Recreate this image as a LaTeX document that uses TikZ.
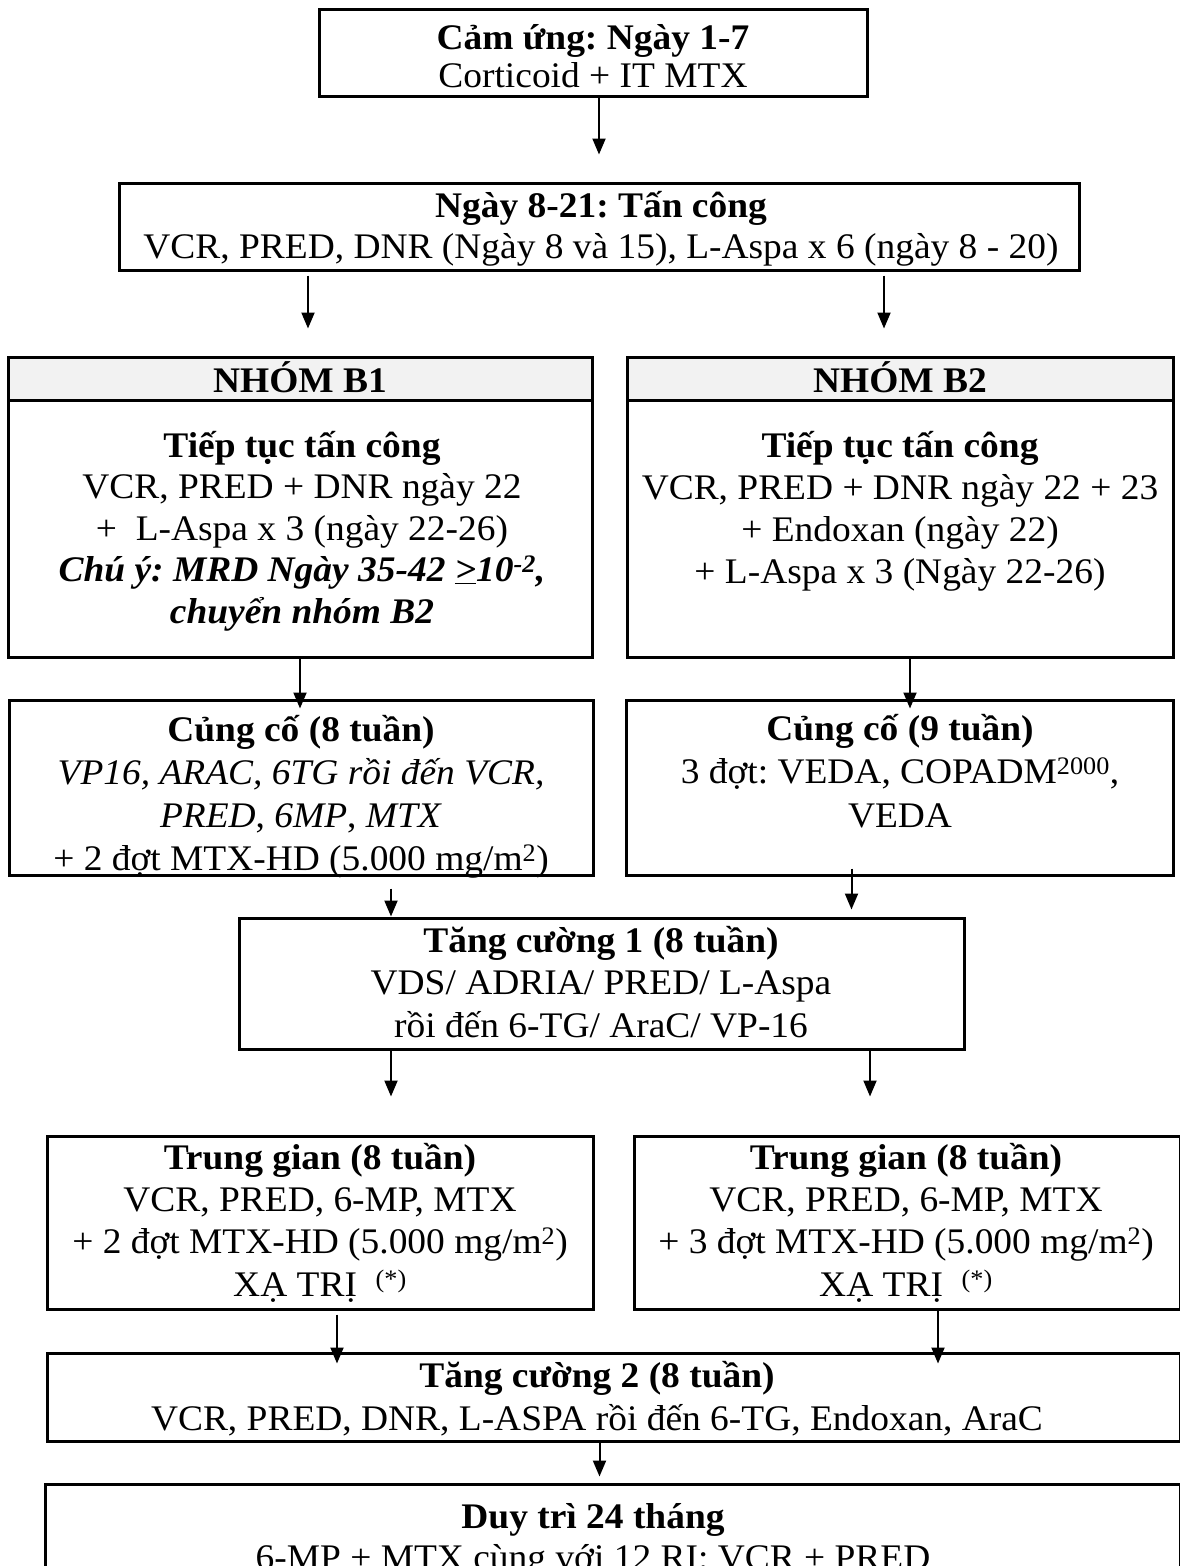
\documentclass[tikz,border=0pt]{standalone}
\usepackage{fontspec}
\setmainfont{Liberation Serif}[FakeStretch=1.04]
\usetikzlibrary{arrows.meta,fit}
\definecolor{hdrgray}{HTML}{F2F2F2}
\frenchspacing
% invisible strut: the first line of every text block reaches 40pt above its baseline
\newcommand\fls{\rule[-13pt]{0pt}{53pt}}
\begin{document}
\begin{tikzpicture}[x=1pt,y=-1pt,
  box/.style={draw=black, line width=3pt, rectangle, inner sep=0pt},
  hdr/.style={box, fill=hdrgray},
  txt/.style={align=center, inner sep=0pt, anchor=north,
    font=\fontsize{36}{#1}\selectfont},
  txt/.default=42,
  htxt/.style={inner sep=0pt, anchor=base, font=\fontsize{36}{42}\selectfont\bfseries},
  arr/.style={draw=black, line width=2pt, -{Triangle[length=16pt,width=13pt]}}]

\useasboundingbox (0,0) rectangle (1179,1566);

% ---- boxes ----
\node[box, fit={(319,9) (867,96)}] (A) {};
\node[box, fit={(119,183) (1079,270)}] (B) {};
\node[hdr, fit={(8,357) (592,400)}] (B1h) {};
\node[box, fit={(8,400) (592,657)}] (B1) {};
\node[hdr, fit={(627,357) (1173,400)}] (B2h) {};
\node[box, fit={(627,400) (1173,657)}] (B2) {};
\node[box, fit={(9,700) (593,875)}] (C1) {};
\node[box, fit={(626,700) (1173,875)}] (C2) {};
\node[box, fit={(239,918) (964,1049)}] (D) {};
\node[box, fit={(47,1136) (593,1309)}] (E1) {};
\node[box, fit={(634,1136) (1180,1309)}] (E2) {};
\node[box, fit={(47,1353) (1180,1441)}] (F) {};
\node[box, fit={(45,1484) (1180,1620)}] (G) {};

% ---- texts (node top = first baseline - 40) ----
\node[txt=38] (At) at (593,9) {\fls\textbf{Cảm ứng: Ngày 1-7}\\Corticoid + IT MTX};
\node[txt=41] (Bt) at (601,177) {\fls\textbf{Ngày 8-21: Tấn công}\\VCR, PRED, DNR (Ngày 8 và 15), L-Aspa x 6 (ngày 8 - 20)};
\node[htxt] (B1ht) at (300,392) {NHÓM B1};
\node[htxt] (B2ht) at (900,392) {NHÓM B2};
\node[txt=41.5] (B1t) at (302,417) {\fls\textbf{Tiếp tục tấn công}\\VCR, PRED + DNR ngày 22\\+ \ L-Aspa x 3 (ngày 22-26)\\\textbf{\textit{Chú ý: MRD Ngày 35-42 \underline{>}10\textsuperscript{-2},}}\\\textbf{\textit{chuyển nhóm B2}}};
\node[txt=42] (B2t) at (900,417) {\fls\textbf{Tiếp tục tấn công}\\VCR, PRED + DNR ngày 22 + 23\\+ Endoxan (ngày 22)\\+ L-Aspa x 3 (Ngày 22-26)};
\node[txt=43] (C1t) at (301,701) {\fls\textbf{Củng cố (8 tuần)}\\\textit{VP16, ARAC, 6TG rồi đến VCR,}\\\textit{PRED}, \textit{6MP}, \textit{MTX}\\+ 2 đợt MTX-HD (5.000 mg/m\textsuperscript{2})};
\node[txt=43.5] (C2t) at (900,700) {\fls\textbf{Củng cố (9 tuần)}\\3 đợt: VEDA, COPADM\textsuperscript{2000},\\VEDA};
\node[txt=42.5] (Dt) at (601,912) {\fls\textbf{Tăng cường 1 (8 tuần)}\\VDS/ ADRIA/ PRED/ L-Aspa\\rồi đến 6-TG/ AraC/ VP-16};
\node[txt=42.3] (E1t) at (320,1129) {\fls\textbf{Trung gian (8 tuần)}\\VCR, PRED, 6-MP, MTX\\+ 2 đợt MTX-HD (5.000 mg/m\textsuperscript{2})\\XẠ TRỊ \ \textsuperscript{(*)}};
\node[txt=42.3] (E2t) at (906,1129) {\fls\textbf{Trung gian (8 tuần)}\\VCR, PRED, 6-MP, MTX\\+ 3 đợt MTX-HD (5.000 mg/m\textsuperscript{2})\\XẠ TRỊ \ \textsuperscript{(*)}};
\node[txt=43] (Ft) at (597,1347) {\fls\textbf{Tăng cường 2 (8 tuần)}\\VCR, PRED, DNR, L-ASPA rồi đến 6-TG, Endoxan, AraC};
\node[txt=41] (Gt) at (593,1488) {\fls\textbf{Duy trì 24 tháng}\\6-MP + MTX cùng với 12 RI: VCR + PRED};

% ---- connectors ----
\draw[arr, shorten >=27pt] ([xshift=6pt]A.south) -- ([xshift=6pt]A.south |- B.north);
\draw[arr, shorten <=4pt, shorten >=27pt] ([xshift=8pt]B1h.north |- B.south) -- ([xshift=8pt]B1h.north);
\draw[arr, shorten <=4pt, shorten >=27pt] ([xshift=-16pt]B2h.north |- B.south) -- ([xshift=-16pt]B2h.north);
\draw[arr, shorten >=-10pt] (B1.south) -- (B1.south |- C1.north);
\draw[arr, shorten >=-10pt] ([xshift=10pt]B2.south) -- ([xshift=10pt]B2.south |- C2.north);
\draw[arr, shorten <=12pt] ([xshift=90pt]C1.south) -- ([xshift=90pt]C1.south |- D.north);
\draw[arr, shorten <=-8pt, shorten >=7pt] ([xshift=-48pt]C2.south) -- ([xshift=-48pt]C2.south |- D.north);
\draw[arr, shorten >=38pt] ([xshift=71pt]E1.north |- D.south) -- ([xshift=71pt]E1.north);
\draw[arr, shorten >=38pt] ([xshift=-37pt]E2.north |- D.south) -- ([xshift=-37pt]E2.north);
\draw[arr, shorten <=4pt, shorten >=-12pt] ([xshift=17pt]E1.south) -- ([xshift=17pt]E1.south |- F.north);
\draw[arr, shorten >=-12pt] ([xshift=31pt]E2.south) -- ([xshift=31pt]E2.south |- F.north);
\draw[arr, shorten >=6pt] ([xshift=-14pt]F.south) -- ([xshift=-14pt]F.south |- G.north);
\end{tikzpicture}
\end{document}
